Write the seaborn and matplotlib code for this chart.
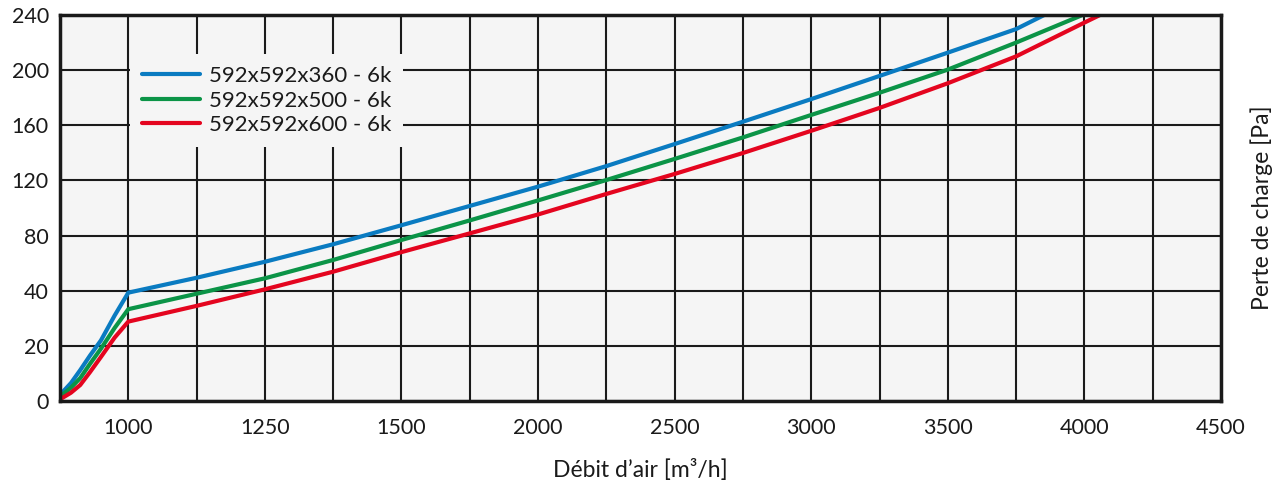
import numpy as np
import pandas as pd
import matplotlib
matplotlib.use("Agg")
import matplotlib.pyplot as plt
import seaborn as sns

# ---- data ----
series_names = ["592x592x360 - 6k", "592x592x500 - 6k", "592x592x600 - 6k"]
series_colors = ["#0a7bc1", "#0b9447", "#e4051f"]

x_360 = [875, 895, 912, 930, 950, 975, 1000, 1125, 1250, 1375, 1500, 1750, 2000, 2250, 2500, 2750, 3000, 3250, 3500, 3750, 3853]
y_360 = [2.2, 6.5, 11.2, 16.5, 22.0, 31.0, 39.3, 49.4, 61.0, 73.7, 87.5, 101.5, 115.5, 130.4, 146.4, 162.6, 179.0, 195.8, 212.7, 229.8, 240.0]

x_500 = [875, 895, 912, 930, 950, 975, 1000, 1125, 1250, 1375, 1500, 1750, 2000, 2250, 2500, 2750, 3000, 3250, 3500, 3750, 3993]
y_500 = [1.6, 4.8, 8.3, 13.5, 19.0, 26.5, 33.3, 38.9, 49.0, 62.3, 76.8, 91.0, 105.5, 120.3, 135.6, 151.2, 167.5, 183.6, 200.4, 220.0, 240.0]

x_600 = [875, 895, 912, 930, 950, 975, 1000, 1125, 1250, 1375, 1500, 1750, 2000, 2250, 2500, 2750, 3000, 3250, 3500, 3750, 4000, 4057]
y_600 = [0.6, 3.0, 5.8, 10.5, 16.0, 23.0, 28.8, 34.5, 41.0, 53.8, 68.0, 81.6, 95.3, 110.2, 124.7, 139.9, 156.0, 172.6, 190.5, 210.0, 234.5, 240.0]

x_ticks = [1000, 1250, 1500, 2000, 2500, 3000, 3500, 4000, 4500]
x_minor = [875, 1125, 1375, 1750, 2250, 2750, 3250, 3750, 4250]
y_ticks = [0, 20, 40, 80, 120, 160, 200, 240]

x_label = "Débit d’air [m³/h]"
y_label = "Perte de charge [Pa]"

# piecewise-linear axis breakpoints (grid is 125 below 1500, 250 above; 20 below 40 Pa, 40 above)
x_breaks = [875, 1500, 4500]
x_grid_pos = [0, 5, 17]
y_breaks = [0, 40, 240]
y_grid_pos = [0, 2, 7]

df = pd.concat([
    pd.DataFrame({"x": x_360, "y": y_360, "s": series_names[0]}),
    pd.DataFrame({"x": x_500, "y": y_500, "s": series_names[1]}),
    pd.DataFrame({"x": x_600, "y": y_600, "s": series_names[2]}),
], ignore_index=True)

sns.set_theme(style="white")
plt.rcParams["font.family"] = ["Lato", "DejaVu Sans"]

fig = plt.figure(figsize=(12.84, 4.86), dpi=100)
ax = fig.add_axes([60 / 1284, 1 - 401 / 486, (1221 - 60) / 1284, (401 - 15) / 486])
ax.set_facecolor("#f5f5f5")

sns.lineplot(data=df, x="x", y="y", hue="s", palette=series_colors,
             estimator=None, sort=False, linewidth=3.0, ax=ax, legend=False,
             solid_capstyle="round", solid_joinstyle="round")

def fx(v):
    return np.interp(v, x_breaks, x_grid_pos)
def fxi(v):
    return np.interp(v, x_grid_pos, x_breaks)
def fy(v):
    return np.interp(v, y_breaks, y_grid_pos)
def fyi(v):
    return np.interp(v, y_grid_pos, y_breaks)

ax.set_xscale("function", functions=(fx, fxi))
ax.set_yscale("function", functions=(fy, fyi))
ax.set_xlim(875, 4500)
ax.set_ylim(0, 240)

ax.set_xticks(x_ticks)
ax.set_xticklabels([str(v) for v in x_ticks])
ax.set_xticks(x_minor, minor=True)
ax.set_yticks(y_ticks)
ax.set_yticklabels([str(v) for v in y_ticks])
ax.set_yticks([], minor=True)

ax.grid(True, which="both", color="#1a1a1a", linewidth=1.5)
ax.set_axisbelow(True)
for sp in ax.spines.values():
    sp.set_visible(True)
    sp.set_color("#1a1a1a")
    sp.set_linewidth(2.5)

ax.tick_params(axis="both", which="both", length=0, labelsize=15.5, colors="#1a1a1a")
ax.tick_params(axis="x", pad=12)
ax.tick_params(axis="y", pad=8)

ax.set_xlabel(x_label, fontsize=16.5, color="#1a1a1a")
ax.xaxis.set_label_coords(0.5, -0.179)
ax.xaxis.label.set_va("center")
ax.yaxis.set_label_position("right")
ax.set_ylabel(y_label, fontsize=16.5, color="#1a1a1a")
ax.yaxis.set_label_coords(1.0353, 0.5)
ax.yaxis.label.set_va("center")
ax.yaxis.label.set_ha("center")

handles = [plt.Line2D([0], [0], color=c, lw=3.0, solid_capstyle="round") for c in series_colors]
leg = ax.legend(handles, series_names, loc="upper left", bbox_to_anchor=(0.0603, 0.899),
                borderaxespad=0, frameon=True, fancybox=False, fontsize=16,
                handlelength=2.6, handletextpad=0.4, labelspacing=0.2, borderpad=0.55)
leg.get_frame().set_facecolor("#f5f5f5")
leg.get_frame().set_edgecolor("none")
leg.get_frame().set_alpha(1)
for t in leg.get_texts():
    t.set_color("#1a1a1a")

fig.savefig("out.png", dpi=100)
